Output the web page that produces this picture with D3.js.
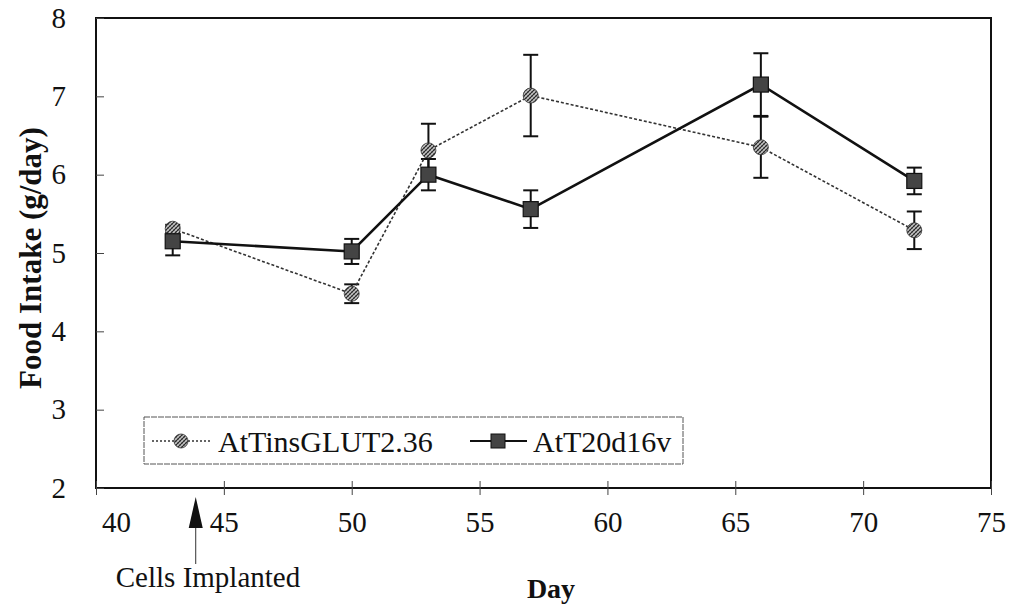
<!DOCTYPE html>
<html>
<head>
<meta charset="utf-8">
<script src="https://cdn.jsdelivr.net/npm/d3@7/dist/d3.min.js"></script>
<style>
  body { margin: 0; background: #fff; }
  svg text { font-family: "Liberation Serif", "Times New Roman", serif; fill: #111; }
</style>
</head>
<body>
<svg class="chart"></svg>
<script>
// food intake per day, two cell lines, mean +/- error
var days = [43, 50, 53, 57, 66, 72];
var glutMean = [5.31, 4.48, 6.31, 7.01, 6.35, 5.29];
var glutErr  = [0.05, 0.12, 0.34, 0.52, 0.39, 0.24];
var attMean  = [5.15, 5.02, 6.00, 5.56, 7.15, 5.92];
var attErr   = [0.18, 0.16, 0.20, 0.24, 0.40, 0.17];
var seriesNames = ["AtTinsGLUT2.36", "AtT20d16v"];
var xTicks = [40, 45, 50, 55, 60, 65, 70, 75];
var yTicks = [2, 3, 4, 5, 6, 7, 8];
var implantDay = 43.9;
var implantLabel = "Cells Implanted";

var width = 1018,
    height = 605;

var svg = d3.select(".chart")
            .attr("width", width)
            .attr("height", height);

// note: "top" is taken by window.top, so plot edges get their own names
var plotL = 96, plotR = 991, plotT = 18, plotB = 488;

var x = d3.scaleLinear().domain([40, 75]).range([plotL, plotR]);
var y = d3.scaleLinear().domain([2, 8]).range([plotB, plotT]);

// hatch pattern for the circle markers
var defs = svg.append("defs");
var pat = defs.append("pattern")
  .attr("id", "hatch")
  .attr("patternUnits", "userSpaceOnUse")
  .attr("width", 4).attr("height", 4);
pat.append("rect").attr("width", 4).attr("height", 4).attr("fill", "#c4c4c4");
pat.append("path").attr("d", "M0,4 L4,0 M-1,1 L1,-1 M3,5 L5,3")
  .attr("stroke", "#222").attr("stroke-width", 1.1);
pat.append("path").attr("d", "M0,0 L4,4")
  .attr("stroke", "#555").attr("stroke-width", 0.6);

// frame
svg.append("rect")
  .attr("x", plotL).attr("y", plotT)
  .attr("width", plotR - plotL).attr("height", plotB - plotT)
  .attr("fill", "none").attr("stroke", "#111").attr("stroke-width", 2);

// axes
var xAxis = d3.axisBottom(x).tickValues(xTicks).tickSizeInner(7).tickSizeOuter(0).tickPadding(16)
  .tickFormat(d3.format("d"));
var yAxis = d3.axisLeft(y).tickValues(yTicks).tickSizeInner(8).tickSizeOuter(0).tickPadding(22)
  .tickFormat(d3.format("d"));

var gx = svg.append("g").attr("transform", "translate(0," + plotB + ")").call(xAxis);
var gy = svg.append("g").attr("transform", "translate(" + plotL + ",0)").call(yAxis);

gx.select(".domain").remove();
gy.select(".domain").remove();
gx.selectAll(".tick line").attr("y1", -7).attr("stroke", "#444");
gy.selectAll(".tick line").attr("x2", 8).attr("stroke", "#444");
gx.selectAll(".tick text").attr("font-size", 29).attr("font-family", "Liberation Serif")
  .attr("dx", function(d){ return d === 40 ? 20 : 0; });
gy.selectAll(".tick text").attr("font-size", 29).attr("font-family", "Liberation Serif");

// axis titles
svg.append("text")
  .attr("transform", "translate(41,258) rotate(-90)")
  .attr("text-anchor", "middle")
  .attr("font-size", 31).attr("font-weight", "bold")
  .text("Food Intake (g/day)");

svg.append("text")
  .attr("x", 551).attr("y", 598)
  .attr("text-anchor", "middle")
  .attr("font-size", 28).attr("font-weight", "bold")
  .text("Day");

// implant arrow
var ax = x(implantDay);
svg.append("line")
  .attr("x1", ax).attr("x2", ax).attr("y1", 528).attr("y2", 564)
  .attr("stroke", "#333").attr("stroke-width", 1);
svg.append("path")
  .attr("d", "M" + ax + ",497 L" + (ax - 7) + ",528 L" + (ax + 7) + ",528 Z")
  .attr("fill", "#111");
svg.append("text")
  .attr("x", 208).attr("y", 587)
  .attr("text-anchor", "middle")
  .attr("font-size", 29)
  .text(implantLabel);

var glut = days.map(function(d, i){ return {day: d, v: glutMean[i], e: glutErr[i]}; });
var att  = days.map(function(d, i){ return {day: d, v: attMean[i], e: attErr[i]}; });

var line = d3.line().x(function(d){ return x(d.day); }).y(function(d){ return y(d.v); });

function errorBars(data) {
  var g = svg.append("g");
  var eb = g.selectAll("g").data(data).enter().append("g");
  eb.append("line")
    .attr("x1", function(d){ return x(d.day); })
    .attr("x2", function(d){ return x(d.day); })
    .attr("y1", function(d){ return y(d.v - d.e); })
    .attr("y2", function(d){ return y(d.v + d.e); })
    .attr("stroke", "#111").attr("stroke-width", 2);
  [-1, 1].forEach(function(s){
    eb.append("line")
      .attr("x1", function(d){ return x(d.day) - 7.5; })
      .attr("x2", function(d){ return x(d.day) + 7.5; })
      .attr("y1", function(d){ return y(d.v + s * d.e); })
      .attr("y2", function(d){ return y(d.v + s * d.e); })
      .attr("stroke", "#111").attr("stroke-width", 2);
  });
}

errorBars(glut);
errorBars(att);

svg.append("path").datum(glut).attr("d", line)
  .attr("fill", "none").attr("stroke", "#333").attr("stroke-width", 1.6)
  .attr("stroke-dasharray", "3,2");

svg.append("path").datum(att).attr("d", line)
  .attr("fill", "none").attr("stroke", "#111").attr("stroke-width", 2.6);

svg.selectAll(".glutDot").data(glut).enter().append("circle")
  .attr("class", "glutDot")
  .attr("cx", function(d){ return x(d.day); })
  .attr("cy", function(d){ return y(d.v); })
  .attr("r", 7.5)
  .attr("fill", "url(#hatch)").attr("stroke", "#333").attr("stroke-width", 0.8);

svg.selectAll(".attDot").data(att).enter().append("rect")
  .attr("class", "attDot")
  .attr("x", function(d){ return x(d.day) - 7.5; })
  .attr("y", function(d){ return y(d.v) - 7.5; })
  .attr("width", 15).attr("height", 15)
  .attr("fill", "#444").attr("stroke", "#111").attr("stroke-width", 1.2);

// legend
var lg = svg.append("g").attr("transform", "translate(144,417)");
lg.append("rect").attr("width", 539).attr("height", 47)
  .attr("fill", "#fff").attr("stroke", "#555").attr("stroke-width", 1)
  .attr("stroke-dasharray", "6,1");

lg.append("line").attr("x1", 8).attr("x2", 68).attr("y1", 24).attr("y2", 24)
  .attr("stroke", "#333").attr("stroke-width", 1.4).attr("stroke-dasharray", "2,2");
lg.append("circle").attr("cx", 37).attr("cy", 24).attr("r", 7)
  .attr("fill", "url(#hatch)").attr("stroke", "#333").attr("stroke-width", 0.8);
lg.append("text").attr("x", 74).attr("y", 35).attr("font-size", 30).text(seriesNames[0]);

lg.append("line").attr("x1", 326).attr("x2", 383).attr("y1", 24).attr("y2", 24)
  .attr("stroke", "#111").attr("stroke-width", 2.2);
lg.append("rect").attr("x", 347).attr("y", 17).attr("width", 14).attr("height", 14)
  .attr("fill", "#444").attr("stroke", "#111").attr("stroke-width", 1);
lg.append("text").attr("x", 389).attr("y", 35).attr("font-size", 30).text(seriesNames[1]);
</script>
</body>
</html>
